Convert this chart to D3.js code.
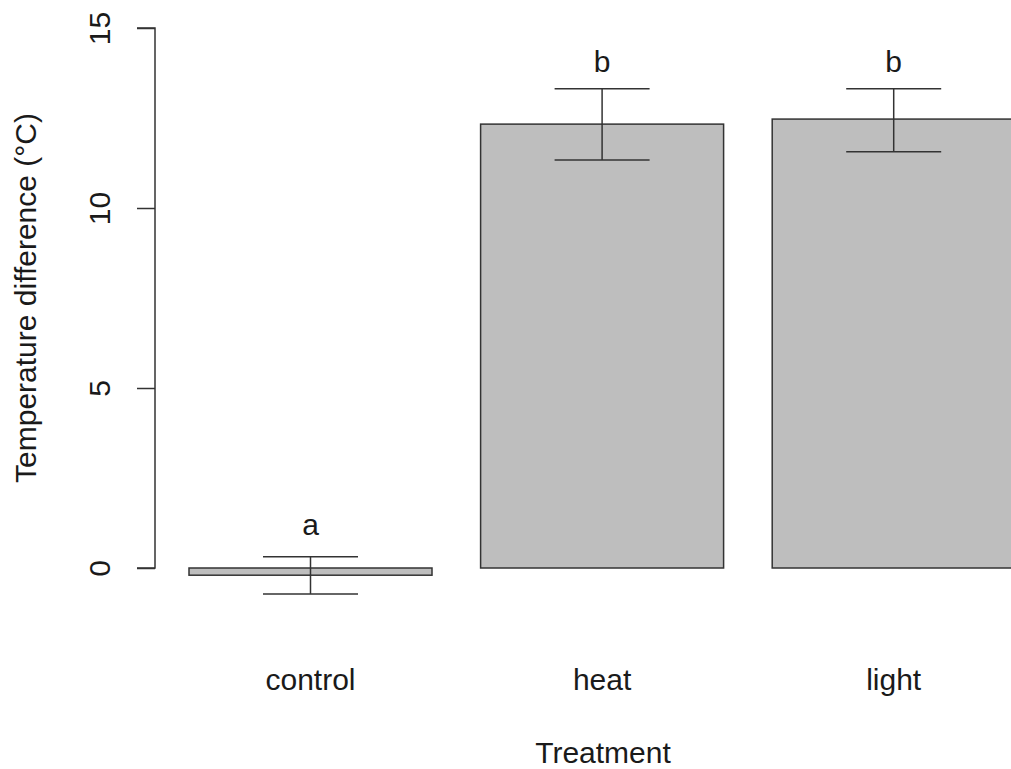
<!DOCTYPE html>
<html>
<head>
<meta charset="utf-8">
<script src="https://cdn.jsdelivr.net/npm/d3@7"></script>
<style>
  body { margin: 0; background: #fff; }
  svg { display: block; font-family: "Liberation Sans", Arial, sans-serif; }
</style>
</head>
<body>
<div id="chart"></div>
<script>
// chart data
const treatments = ["control", "heat", "light"];
const means = [-0.2, 12.33, 12.47];
const errLow = [-0.72, 11.33, 11.56];
const errHigh = [0.31, 13.31, 13.31];
const letters = ["a", "b", "b"];
const letterY = [0.92, 13.78, 13.78];
const yTicks = [0, 5, 10, 15];

const w = 1011, h = 769;
const lineColor = "#333333";
const textColor = "#1a1a1a";

const svg = d3.select("#chart").append("svg")
  .attr("width", w)
  .attr("height", h);

// 36px per degree, 0 sits at y=568
const y = d3.scaleLinear().domain([0, 15]).range([568, 28]);

// R barplot: bar width 1, space 0.2
const x = d3.scaleBand()
  .domain(treatments)
  .range([189, 1015.2])
  .paddingInner(1 / 6)
  .paddingOuter(0);

const data = treatments.map((t, i) => ({
  name: t, mean: means[i], lo: errLow[i], hi: errHigh[i],
  letter: letters[i], ly: letterY[i]
}));

// bars
svg.selectAll("rect.bar")
  .data(data)
  .enter()
  .append("rect")
  .attr("class", "bar")
  .attr("x", d => x(d.name))
  .attr("y", d => y(Math.max(0, d.mean)))
  .attr("width", x.bandwidth())
  .attr("height", d => Math.abs(y(d.mean) - y(0)))
  .attr("fill", "#bebebe")
  .attr("stroke", lineColor)
  .attr("stroke-width", 1.5);

// error bars
const capHalf = 47.5;
const eb = svg.selectAll("g.err")
  .data(data)
  .enter()
  .append("g")
  .attr("class", "err")
  .attr("stroke", lineColor)
  .attr("stroke-width", 1.5);

eb.append("line")
  .attr("x1", d => x(d.name) + x.bandwidth() / 2)
  .attr("x2", d => x(d.name) + x.bandwidth() / 2)
  .attr("y1", d => y(d.lo))
  .attr("y2", d => y(d.hi));
eb.append("line")
  .attr("x1", d => x(d.name) + x.bandwidth() / 2 - capHalf)
  .attr("x2", d => x(d.name) + x.bandwidth() / 2 + capHalf)
  .attr("y1", d => y(d.hi))
  .attr("y2", d => y(d.hi));
eb.append("line")
  .attr("x1", d => x(d.name) + x.bandwidth() / 2 - capHalf)
  .attr("x2", d => x(d.name) + x.bandwidth() / 2 + capHalf)
  .attr("y1", d => y(d.lo))
  .attr("y2", d => y(d.lo));

// significance letters
svg.selectAll("text.letter")
  .data(data)
  .enter()
  .append("text")
  .attr("class", "letter")
  .attr("x", d => x(d.name) + x.bandwidth() / 2)
  .attr("y", d => y(d.ly))
  .attr("text-anchor", "middle")
  .attr("font-size", 30)
  .attr("fill", textColor)
  .text(d => d.letter);

// y axis, R style with rotated labels
const yAxis = d3.axisLeft(y).tickValues(yTicks).tickSize(18).tickPadding(27);
const gy = svg.append("g")
  .attr("transform", "translate(155,0)")
  .call(yAxis);
gy.select(".domain")
  .attr("d", `M-18,${y(15)}H0V${y(0)}H-18`)
  .attr("stroke", lineColor)
  .attr("stroke-width", 1.5);
gy.selectAll(".tick line").attr("stroke", lineColor).attr("stroke-width", 1.5);
gy.selectAll(".tick text")
  .attr("font-size", 30)
  .attr("font-family", "'Liberation Sans', Arial, sans-serif")
  .attr("fill", textColor)
  .attr("text-anchor", "middle")
  .attr("dy", null)
  .attr("x", null)
  .attr("transform", "translate(-45,0) rotate(-90)");

// category labels
svg.selectAll("text.cat")
  .data(treatments)
  .enter()
  .append("text")
  .attr("class", "cat")
  .attr("x", d => x(d) + x.bandwidth() / 2)
  .attr("y", 690)
  .attr("text-anchor", "middle")
  .attr("font-size", 30)
  .attr("fill", textColor)
  .text(d => d);

// axis titles
svg.append("text")
  .attr("x", 603)
  .attr("y", 763)
  .attr("text-anchor", "middle")
  .attr("font-size", 30)
  .attr("fill", textColor)
  .text("Treatment");

svg.append("text")
  .attr("transform", `translate(36,${y(7.5)}) rotate(-90)`)
  .attr("text-anchor", "middle")
  .attr("font-size", 30)
  .attr("fill", textColor)
  .text("Temperature difference (°C)");
</script>
</body>
</html>
